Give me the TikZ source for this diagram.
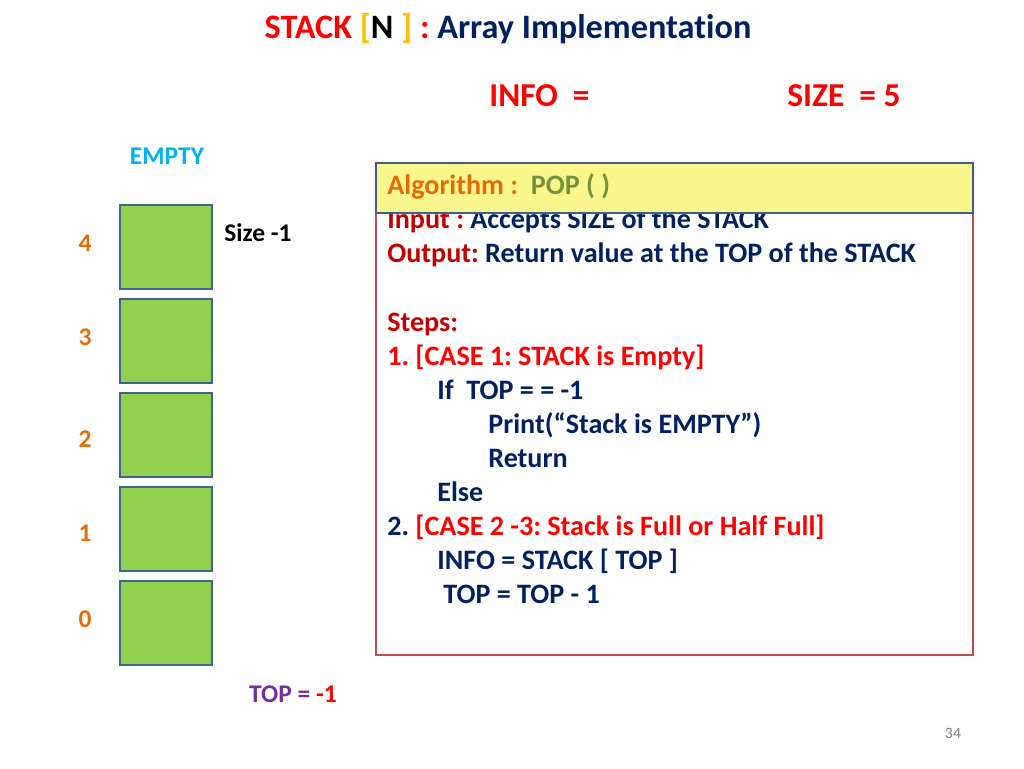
\documentclass[tikz,border=0pt]{standalone}
\usepackage{fontspec}
\setmainfont{Carlito}[Ligatures=NoCommon]
\frenchspacing

\definecolor{navy}{HTML}{002060}
\definecolor{brightred}{HTML}{FF0000}
\definecolor{darkred}{HTML}{C00000}
\definecolor{bracketgold}{HTML}{FFC000}
\definecolor{algorange}{HTML}{E36C09}
\definecolor{popolive}{HTML}{76923C}
\definecolor{cellgreen}{HTML}{92D050}
\definecolor{cellblue}{HTML}{41648C}
\definecolor{idxorange}{HTML}{E46C0A}
\definecolor{emptyblue}{HTML}{00B0F0}
\definecolor{topviolet}{HTML}{7030A0}
\definecolor{boxred}{HTML}{C0504D}
\definecolor{hdrblue}{HTML}{3F5F8A}
\definecolor{hdryellow}{HTML}{FAF78C}

\tikzset{
	cell/.style={draw=cellblue, fill=cellgreen, line width=1.1pt, minimum width=1.84cm, minimum height=1.68cm, inner sep=0pt},
	idx/.style={text=idxorange, inner sep=0pt, font=\bfseries\fontsize{14.5}{17}\selectfont},
	side/.style={anchor=base, inner sep=0pt, font=\bfseries\fontsize{14.5}{17}\selectfont},
	algline/.style={anchor=base west, inner sep=0pt, text=navy, font=\bfseries\fontsize{16}{19}\selectfont},
}

\begin{document}
\begin{tikzpicture}[x=0.02cm, y=-0.02cm]

		\useasboundingbox (0,0) rectangle (1024,768);

		\node[anchor=base, inner sep=0pt, font=\bfseries\fontsize{19.5}{23}\selectfont] (title) at (508,38)
			{\textcolor{brightred}{STACK} \textcolor{bracketgold}{[}N \textcolor{bracketgold}{]} \textcolor{brightred}{:} \textcolor{navy}{Array Implementation}};

		\node[anchor=base west, inner sep=0pt, text=brightred, font=\bfseries\fontsize{19}{23}\selectfont] (info) at (489,106) {INFO\ \ =};
		\node[anchor=base west, inner sep=0pt, text=brightred, font=\bfseries\fontsize{19}{23}\selectfont] (size) at (787,106) {SIZE\ \ = 5};

		% stack cells
		\node[side, text=emptyblue] (empty) at (167,164) {EMPTY};
		\foreach \i/\y/\ly in {4/247/243,3/341/337,2/435/439,1/529/533,0/623/619} {
			\node[cell] (cell\i) at (166,\y) {};
			\node[idx] (idx\i) at (85,\ly) {\i};
		}
		\node[side, anchor=base west] (sizem) at (224,241) {Size -1};
		\node[side, text=topviolet] (top) at (293,702) {TOP = \textcolor{brightred}{-1}};

		% algorithm box
		\draw[boxred, line width=1.2pt] (376,163) rectangle (973,655);
		\node[algline] (input) at (387,228) {\textcolor{darkred}{Input :} Accepts SIZE of the STACK};
		\draw[draw=hdrblue, fill=hdryellow, line width=1.6pt] (376,163) rectangle (973,213);
		\node[algline, text=algorange] (alg) at (387,194) {Algorithm :\ \ \textcolor{popolive}{POP ( )}};
		\node[algline] (output) at (387,262) {\textcolor{darkred}{Output:} Return value at the TOP of the STACK};
		\node[algline, text=darkred] (steps) at (387,331) {Steps:};
		\node[algline, text=brightred] (case1) at (387,365) {1. [CASE 1: STACK is Empty]};
		\node[algline] (if) at (437,399) {If\ \ TOP = = -1};
		\node[algline] (print) at (488,433) {Print(“Stack is EMPTY”)};
		\node[algline] (ret) at (488,467) {Return};
		\node[algline] (else) at (437,501) {Else};
		\node[algline] (case2) at (387,535) {2. \textcolor{brightred}{[CASE 2 -3: Stack is Full or Half Full]}};
		\node[algline] (assign) at (437,569) {INFO = STACK [ TOP ]};
		\node[algline] (dec) at (443,603) {TOP = TOP - 1};

		\node[anchor=base, inner sep=0pt, text=gray, font=\fontsize{9}{11}\selectfont] (page) at (953,738) {34};
	\end{tikzpicture}
\end{document}
